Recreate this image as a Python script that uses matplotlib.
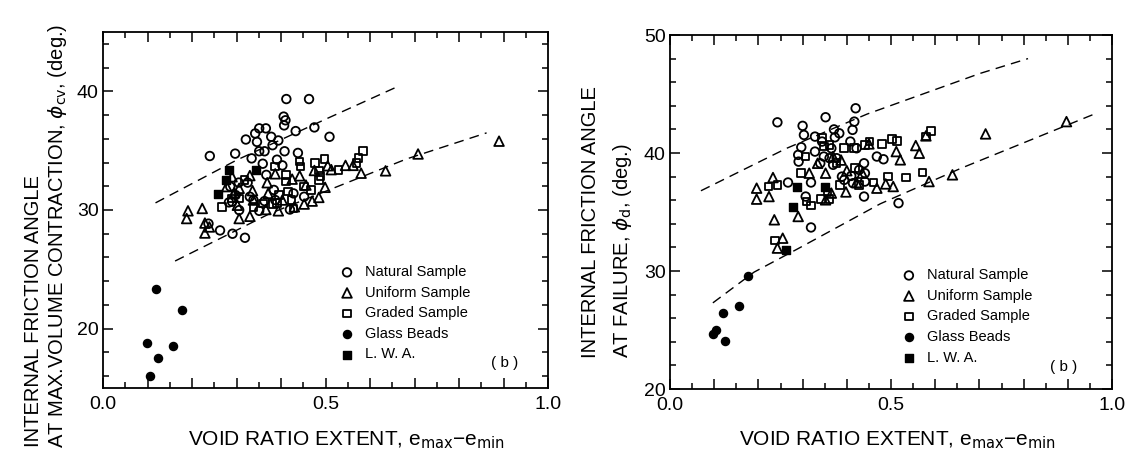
import matplotlib
matplotlib.use('Agg')
import matplotlib.pyplot as plt
from matplotlib.ticker import MultipleLocator, FuncFormatter

plt.rcParams['font.family'] = ['Liberation Sans', 'DejaVu Sans']
plt.rcParams['mathtext.fontset'] = 'dejavusans'

# ---- panel 1 : phi_cv ----
nat1_x = [0.412, 0.463, 0.406, 0.410, 0.407, 0.475, 0.433, 0.509, 0.351, 0.366, 0.342, 0.321,
          0.378, 0.394, 0.346, 0.381, 0.351, 0.363, 0.408, 0.438, 0.240, 0.297, 0.334, 0.359,
          0.391, 0.403, 0.367, 0.305, 0.325, 0.286, 0.298, 0.290, 0.283, 0.306, 0.351, 0.363,
          0.420, 0.387, 0.263, 0.237, 0.291, 0.319, 0.338, 0.428, 0.452, 0.384, 0.330]
nat1_y = [39.35, 39.35, 37.87, 37.56, 37.13, 36.96, 36.65, 36.17, 36.88, 36.88, 36.45, 35.94,
          36.17, 35.86, 35.74, 35.46, 34.95, 34.95, 34.95, 34.81, 34.55, 34.75, 34.35, 33.90,
          34.24, 33.76, 32.96, 32.31, 32.31, 31.97, 31.26, 30.70, 30.64, 29.99, 29.93, 30.75,
          30.04, 30.84, 28.28, 28.85, 28.00, 27.66, 30.84, 31.40, 31.12, 31.69, 31.12]

uni1_x = [0.890, 0.708, 0.635, 0.580, 0.562, 0.545, 0.505, 0.513, 0.499, 0.485, 0.470, 0.452,
          0.430, 0.442, 0.475, 0.425, 0.394, 0.369, 0.366, 0.336, 0.330, 0.306, 0.306, 0.295,
          0.191, 0.188, 0.223, 0.229, 0.239, 0.330, 0.290, 0.371, 0.403, 0.338, 0.278, 0.302,
          0.456, 0.387, 0.229]
uni1_y = [35.80, 34.72, 33.30, 33.10, 33.76, 33.76, 33.73, 33.40, 31.91, 31.06, 30.75, 30.50,
          30.27, 32.88, 33.33, 32.60, 29.93, 32.30, 30.04, 31.63, 29.47, 29.28, 31.83, 31.46,
          29.93, 29.28, 30.13, 28.06, 28.57, 32.90, 32.80, 31.40, 30.84, 30.84, 31.97, 30.40,
          32.10, 33.05, 28.90]

grd1_x = [0.584, 0.574, 0.570, 0.498, 0.476, 0.442, 0.444, 0.529, 0.485, 0.489, 0.485, 0.411,
          0.411, 0.416, 0.395, 0.391, 0.424, 0.428, 0.267, 0.290, 0.338, 0.359, 0.381, 0.452,
          0.468, 0.318, 0.387, 0.306]
grd1_y = [34.95, 34.38, 33.96, 34.30, 33.96, 34.10, 33.67, 33.39, 33.33, 32.88, 32.54, 32.96,
          32.40, 31.55, 31.26, 30.61, 30.84, 30.13, 30.27, 30.98, 30.27, 30.55, 30.50, 31.97,
          31.69, 32.54, 33.67, 30.98]

gls1_x = [0.118, 0.177, 0.098, 0.158, 0.124, 0.106]
gls1_y = [23.37, 21.56, 18.77, 18.50, 17.56, 16.00]

lwa1_x = [0.283, 0.343, 0.276, 0.259]
lwa1_y = [33.33, 33.33, 32.54, 31.32]

bnd1_up_x = [0.118, 0.300, 0.503, 0.665]
bnd1_up_y = [30.6, 34.2, 37.7, 40.45]
bnd1_lo_x = [0.162, 0.375, 0.682, 0.862]
bnd1_lo_y = [25.7, 29.7, 34.3, 36.5]

# ---- panel 2 : phi_d ----
nat2_x = [0.243, 0.352, 0.420, 0.417, 0.413, 0.300, 0.303, 0.297, 0.290, 0.291, 0.328, 0.344,
          0.328, 0.371, 0.383, 0.373, 0.365, 0.361, 0.369, 0.408, 0.422, 0.439, 0.428, 0.468,
          0.483, 0.441, 0.441, 0.410, 0.439, 0.517, 0.319, 0.307, 0.267, 0.319, 0.394, 0.414,
          0.377, 0.348, 0.389, 0.340]
nat2_y = [42.60, 43.03, 43.79, 42.66, 41.96, 42.30, 41.53, 40.49, 39.84, 39.27, 41.39, 40.97,
          40.12, 42.00, 41.67, 41.33, 40.40, 39.56, 39.00, 40.97, 40.40, 39.13, 38.57, 39.70,
          39.47, 38.29, 37.58, 38.06, 36.31, 35.75, 33.69, 36.31, 37.50, 37.50, 37.72, 37.44,
          39.56, 39.70, 38.00, 39.13]

uni2_x = [0.897, 0.714, 0.639, 0.586, 0.564, 0.556, 0.579, 0.521, 0.512, 0.505, 0.488, 0.468,
          0.450, 0.196, 0.196, 0.224, 0.233, 0.236, 0.255, 0.243, 0.290, 0.334, 0.352, 0.365,
          0.387, 0.398, 0.422, 0.435, 0.315, 0.352, 0.369, 0.400]
uni2_y = [42.66, 41.62, 38.15, 37.58, 39.98, 40.63, 41.45, 39.42, 40.12, 37.16, 37.38, 37.02,
          40.77, 37.02, 36.09, 36.31, 37.92, 34.34, 32.78, 31.94, 34.62, 39.13, 38.29, 36.60,
          39.40, 36.70, 37.50, 38.29, 38.29, 36.03, 39.70, 38.50]

grd2_x = [0.590, 0.579, 0.513, 0.502, 0.480, 0.451, 0.441, 0.416, 0.394, 0.361, 0.344, 0.348,
          0.307, 0.297, 0.237, 0.243, 0.223, 0.309, 0.319, 0.342, 0.361, 0.534, 0.571, 0.493,
          0.460, 0.418, 0.427, 0.385, 0.377, 0.356]
grd2_y = [41.87, 41.39, 41.02, 41.17, 40.74, 40.97, 40.69, 40.40, 40.40, 40.69, 41.25, 40.54,
          39.70, 38.29, 32.59, 37.30, 37.16, 35.89, 35.55, 36.09, 36.09, 37.92, 38.34, 38.00,
          37.50, 38.71, 37.30, 37.30, 39.13, 36.65]

gls2_x = [0.0965, 0.105, 0.120, 0.125, 0.157, 0.177]
gls2_y = [24.65, 25.02, 26.43, 24.09, 27.00, 29.54]

lwa2_x = [0.288, 0.350, 0.279, 0.262]
lwa2_y = [37.10, 37.10, 35.46, 31.80]

bnd2_up_x = [0.070, 0.264, 0.446, 0.702, 0.810]
bnd2_up_y = [36.8, 40.4, 43.3, 46.75, 48.0]
bnd2_lo_x = [0.097, 0.190, 0.290, 0.476, 0.658, 0.960]
bnd2_lo_y = [27.3, 29.9, 31.9, 35.7, 38.7, 43.3]

legend_names = ['Natural Sample', 'Uniform Sample', 'Graded Sample', 'Glass Beads', 'L. W. A.']

W, H = 1131, 453


def xfmt(v, pos):
    if abs(v * 2 - round(v * 2)) < 1e-6:
        return f'{v:.1f}'
    return ''


def draw_panel(ax, nat, uni, grd, gls, lwa, up, lo, ylim, leg_xy, b_xy):
    h = []
    h.append(ax.scatter(*nat, marker='o', s=38, facecolors='none', edgecolors='black', linewidths=1.3))
    h.append(ax.scatter(*uni, marker='^', s=48, facecolors='none', edgecolors='black', linewidths=1.3))
    h.append(ax.scatter(*grd, marker='s', s=30, facecolors='none', edgecolors='black', linewidths=1.3))
    h.append(ax.scatter(*gls, marker='o', s=34, color='black'))
    h.append(ax.scatter(*lwa, marker='s', s=26, color='black'))
    for bx, by in (up, lo):
        ax.plot(bx, by, color='black', lw=1.0, dashes=(7, 4.5))

    ax.set_xlim(0, 1.0)
    ax.set_ylim(*ylim)
    ax.xaxis.set_major_locator(MultipleLocator(0.1))
    ax.xaxis.set_minor_locator(MultipleLocator(0.05))
    ax.xaxis.set_major_formatter(FuncFormatter(xfmt))
    ax.yaxis.set_major_locator(MultipleLocator(10))
    ax.yaxis.set_minor_locator(MultipleLocator(2))
    ax.tick_params(which='both', direction='in', top=True, right=True, labelsize=14, width=1.1)
    ax.tick_params(which='major', length=7)
    ax.tick_params(which='minor', length=4)
    ax.tick_params(axis='x', pad=6)
    ax.tick_params(axis='y', pad=3)
    for sp in ax.spines.values():
        sp.set_linewidth(1.3)

    ax.legend(h, legend_names, loc='upper left', bbox_to_anchor=leg_xy, frameon=False,
              fontsize=10.5, handlelength=1.0, handletextpad=0.75, labelspacing=0.45,
              borderpad=0, borderaxespad=0, scatterpoints=1)
    ax.text(b_xy[0], b_xy[1], '( b )', transform=ax.transAxes, fontsize=11,
            ha='center', va='center')


fig = plt.figure(figsize=(11.31, 4.53), dpi=100)
ax1 = fig.add_axes([103 / W, 1 - 388 / H, 445 / W, 356 / H])
ax2 = fig.add_axes([670 / W, 1 - 389 / H, 442 / W, 354 / H])

draw_panel(ax1, (nat1_x, nat1_y), (uni1_x, uni1_y), (grd1_x, grd1_y), (gls1_x, gls1_y),
           (lwa1_x, lwa1_y), (bnd1_up_x, bnd1_up_y), (bnd1_lo_x, bnd1_lo_y),
           (15, 45), (0.532, 0.345), (0.903, 0.07))
draw_panel(ax2, (nat2_x, nat2_y), (uni2_x, uni2_y), (grd2_x, grd2_y), (gls2_x, gls2_y),
           (lwa2_x, lwa2_y), (bnd2_up_x, bnd2_up_y), (bnd2_lo_x, bnd2_lo_y),
           (20, 50), (0.524, 0.341), (0.891, 0.062))

# axis titles, placed as in the reference
xlab = 'VOID RATIO EXTENT, e$_{\\rm max}$\u2212e$_{\\rm min}$'
fig.text(347 / W, 1 - 445 / H, xlab, fontsize=15, ha='center', va='baseline')
fig.text(898 / W, 1 - 445 / H, xlab, fontsize=15, ha='center', va='baseline')

fig.text(34 / W, 1 - 447 / H, 'INTERNAL FRICTION ANGLE', fontsize=14.5,
         rotation=90, ha='center', va='bottom')
fig.text(58 / W, 1 - 448 / H, 'AT MAX.VOLUME CONTRACTION, $\\phi_{\\rm cv}$, (deg.)',
         fontsize=14.5, rotation=90, ha='center', va='bottom')
fig.text(590 / W, 1 - 358 / H, 'INTERNAL FRICTION ANGLE', fontsize=14.5,
         rotation=90, ha='center', va='bottom')
fig.text(622 / W, 1 - 358 / H, 'AT FAILURE, $\\phi_{\\rm d}$, (deg.)', fontsize=14.5,
         rotation=90, ha='center', va='bottom')

fig.savefig('out.png', dpi=100)
